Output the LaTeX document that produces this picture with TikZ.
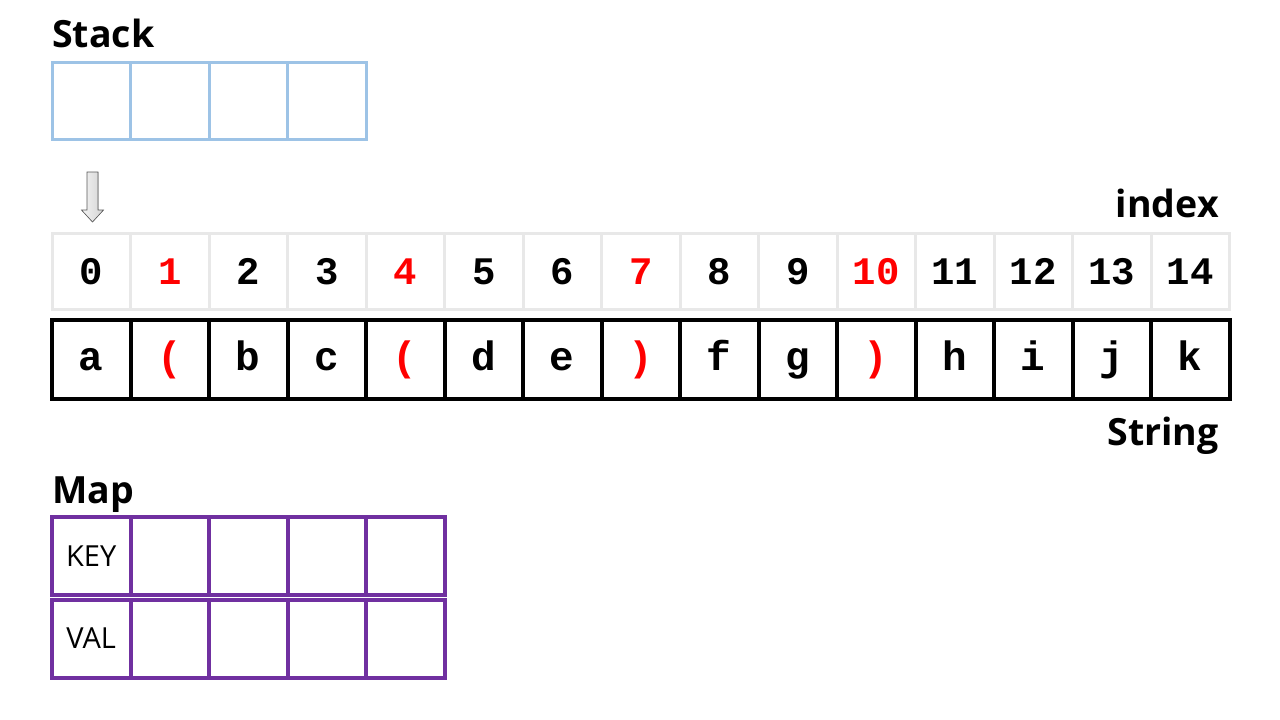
\documentclass[tikz,border=0pt]{standalone}
\usepackage{fontspec}
\setmainfont{Open Sans}
\newfontfamily\monob{Liberation Mono}
\definecolor{stackblue}{HTML}{9DC3E6}
\definecolor{mappurple}{HTML}{7030A0}
\definecolor{idxgray}{HTML}{E8E8E8}
\definecolor{hlred}{HTML}{FF0000}
\begin{document}
\begin{tikzpicture}[x=1pt,y=-1pt,
  cellbase/.style={draw,inner sep=0pt,minimum width=78.5pt},
  stackcell/.style={cellbase,draw=stackblue,line width=3pt,minimum height=77pt},
  idxcell/.style={cellbase,draw=idxgray,line width=3pt,minimum height=76pt,text height=28pt,text depth=2pt,font=\monob\bfseries\fontsize{39}{39}\selectfont},
  strcell/.style={cellbase,draw=black,line width=4pt,minimum height=79pt,text height=26pt,text depth=4pt,font=\monob\bfseries\fontsize{41}{41}\selectfont},
  mapcell/.style={cellbase,draw=mappurple,line width=4pt,minimum height=78pt,font=\fontsize{29}{29}\selectfont},
  title/.style={font=\bfseries\fontsize{37.5}{37.5}\selectfont,inner sep=0pt},
  red/.style={text=hlred}]
\useasboundingbox (0,0) rectangle (1280,720);
\fill[white] (0,0) rectangle (1280,720);
% Stack
\node[title,anchor=base west] (stacklbl) at (52,47) {Stack};
\foreach \i in {0,...,3}{
  \node[stackcell] (st\i) at ({52+78.5*(\i+0.5)},100.5) {};
}
% pointer arrow
\fill[left color=gray!8,right color=gray!35,draw=gray!70!black,line width=0.6pt]
  (87,172) -- (98,172) -- (98,210) -- (103.5,210) -- (92.5,222) -- (81.5,210) -- (87,210) -- cycle;
% index row
\node[title,anchor=base east] (idxlbl) at (1219,217) {index};
\foreach \i in {0,2,3,5,6,8,9,11,12,13,14}{
  \node[idxcell] (ix\i) at ({52+78.5*(\i+0.5)},271) {\i};
}
\foreach \i in {1,4,7,10}{
  \node[idxcell,red] (ix\i) at ({52+78.5*(\i+0.5)},271) {\i};
}
% string row
\foreach \c/\n in {a/0,b/2,c/3,d/5,e/6,f/8,g/9,h/11,i/12,j/13,k/14}{
  \node[strcell] (sc\n) at ({52+78.5*(\n+0.5)},359.5) {\c};
}
\node[strcell,red] (sc1) at ({52+78.5*1.5},359.5) {\symbol{40}};
\node[strcell,red] (sc4) at ({52+78.5*4.5},359.5) {\symbol{40}};
\node[strcell,red] (sc7) at ({52+78.5*7.5},359.5) {\symbol{41}};
\node[strcell,red] (sc10) at ({52+78.5*10.5},359.5) {\symbol{41}};
\node[title,anchor=base east] (strlbl) at (1219,445) {String};
% Map
\node[title,anchor=base west] (maplbl) at (52,503) {Map};
\node[mapcell] (mk0) at ({52+78.5*0.5},556) {KEY};
\node[mapcell] (mv0) at ({52+78.5*0.5},638.5) {VAL};
\foreach \i in {1,...,4}{
  \node[mapcell] (mk\i) at ({52+78.5*(\i+0.5)},556) {};
  \node[mapcell] (mv\i) at ({52+78.5*(\i+0.5)},638.5) {};
}
\end{tikzpicture}
\end{document}
